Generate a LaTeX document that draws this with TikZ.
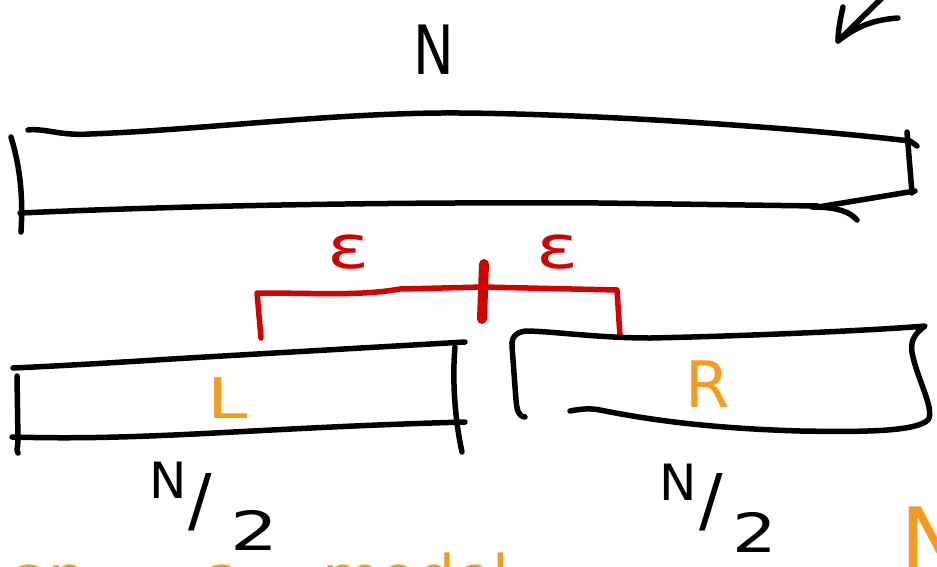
\documentclass[tikz,border=0pt]{standalone}
\usepackage{fontspec}
\setmainfont{DejaVu Sans}
\definecolor{inkred}{HTML}{D40000}
\definecolor{inkorange}{HTML}{F39C21}
\begin{document}
\begin{tikzpicture}[x=1pt,y=-1pt,
  ink/.style={line width=5.5pt,line cap=round,line join=round,draw=black},
  redink/.style={line width=5.5pt,line cap=round,line join=round,draw=inkred},
  blacklabel/.style={text=black,inner sep=0pt},
  redlabel/.style={text=inkred,inner sep=0pt},
  orangelabel/.style={text=inkorange,inner sep=0pt}]
\useasboundingbox (0,0) rectangle (937,566);
\clip (0,0) rectangle (937,566);
\fill[white] (0,0) rectangle (937,566);

% arrow in the top right corner
\draw[ink] (884,-4) -- (838,41);
\draw[ink] (843,7) .. controls (840,20) and (838,32) .. (838,41)
  .. controls (855,28) and (870,20) .. (898,18);

% the whole array of length N
\node[blacklabel,font=\fontsize{68}{68}\selectfont,xscale=0.8] (ntop) at (434,50) {N};
\draw[ink] (28,130) .. controls (45,128) and (60,136) .. (90,134)
  .. controls (200,130) and (340,112) .. (460,113)
  .. controls (600,114) and (800,128) .. (910,141) -- (917,146);
\draw[ink] (11,137) .. controls (21,170) and (23,200) .. (21,232);
\draw[ink] (20,213) .. controls (200,205) and (400,202) .. (600,203) -- (818,206);
\draw[ink] (812,207) .. controls (838,207) and (850,212) .. (857,220);
\draw[ink] (818,207) -- (915,191);
\draw[ink] (907,132) -- (912,193);

% epsilon bracket around the split point
\draw[redink] (261,338) -- (257,293) .. controls (320,293) and (360,296) .. (400,289)
  -- (483,287) -- (617,290) -- (620,337);
\draw[draw=inkred,line width=10pt,line cap=round] (484,264) -- (482,319);
\node[redlabel,font=\fontsize{60}{60}\selectfont,xscale=1.3] (epsl) at (349,252) {ε};
\node[redlabel,font=\fontsize{60}{60}\selectfont,xscale=1.3] (epsr) at (558,252) {ε};

% left half
\draw[ink] (13,368) .. controls (100,364) and (150,360) .. (240,355) -- (465,342);
\draw[ink] (17,376) -- (18,440) .. controls (18,447) and (16,450) .. (18,453);
\draw[ink] (12,437) .. controls (150,441) and (250,428) .. (465,422);
\draw[ink] (455,347) .. controls (452,380) and (455,420) .. (462,452);
\node[orangelabel,font=\fontsize{56}{56}\selectfont,xscale=1.3] (lbl) at (228,398) {L};

% right half
\draw[ink] (525,417) .. controls (518,416) and (517,410) .. (516,400) -- (512,346)
  .. controls (511,336) and (518,331) .. (528,331)
  .. controls (560,332) and (600,338) .. (650,338)
  .. controls (750,336) and (880,330) .. (925,326)
  .. controls (914,334) and (909,342) .. (913,357)
  .. controls (918,380) and (935,410) .. (928,420)
  .. controls (915,432) and (860,432) .. (800,431)
  .. controls (700,428) and (640,418) .. (600,410)
  .. controls (590,408) and (580,409) .. (570,411);
\node[orangelabel,font=\fontsize{64}{64}\selectfont] (rbl) at (708,384) {R};

% sizes of the halves
\node[blacklabel,font=\fontsize{50}{50}\selectfont] (nl) at (168,480) {N};
\node[blacklabel,font=\fontsize{70}{70}\selectfont] (sl) at (200,502) {/};
\node[blacklabel,font=\fontsize{54}{54}\selectfont,xscale=1.4] (twol) at (255,530) {2};
\node[blacklabel,font=\fontsize{50}{50}\selectfont] (nr) at (678,482) {N};
\node[blacklabel,font=\fontsize{70}{70}\selectfont] (sr) at (711,502) {/};
\node[blacklabel,font=\fontsize{54}{54}\selectfont,xscale=1.3] (twor) at (755,532) {2};

% notes running off the bottom edge
\node[orangelabel,font=\fontsize{60}{60}\selectfont,anchor=base west] (notea) at (12,598) {an};
\node[orangelabel,font=\fontsize{60}{60}\selectfont,anchor=base west] (noteb) at (205,598) {a};
\node[orangelabel,font=\fontsize{60}{60}\selectfont,anchor=base west] (notec) at (322,598) {model};
\node[orangelabel,font=\fontsize{90}{90}\selectfont,anchor=base west] (noted) at (900,572) {N};
\end{tikzpicture}
\end{document}
